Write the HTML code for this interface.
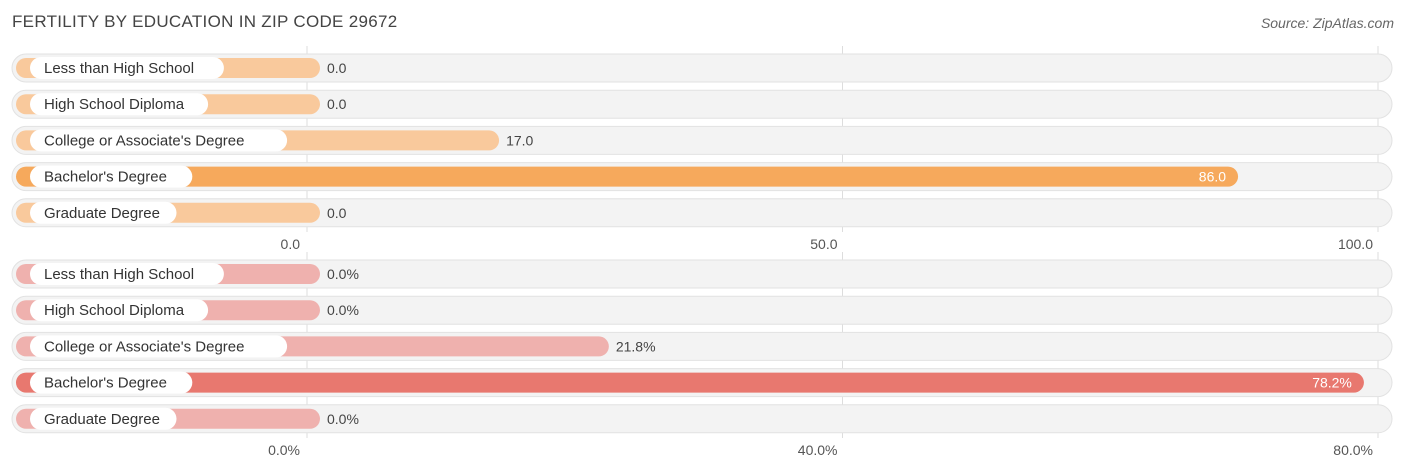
<!DOCTYPE html>
<html><head><meta charset="utf-8"><style>
body{margin:0;width:1406px;height:475px;background:#fff;font-family:"Liberation Sans",sans-serif;overflow:hidden;position:relative}
#title{position:absolute;left:12px;top:12px;font-size:17px;color:#444;letter-spacing:0.3px}
#source{position:absolute;right:12px;top:15px;font-size:14px;color:#666;font-style:italic}
</style></head><body>
<div id="title">FERTILITY BY EDUCATION IN ZIP CODE 29672</div>
<div id="source">Source: ZipAtlas.com</div>
<svg id="chart" width="1406" height="475" style="position:absolute;left:0;top:0"></svg>
<script>
const categories=["Less than High School","High School Diploma","College or Associate's Degree","Bachelor's Degree","Graduate Degree"];
const valuesTop=[0,0,17,86,0];
const valuesBottom=[0,0,21.8,78.2,0];
const ticksTop=[0,50,100];
const ticksBottom=[0,40,80];
const labelsTopTicks=["0.0","50.0","100.0"];
const labelsBottomTicks=["0.0%","40.0%","80.0%"];
const svg=document.getElementById('chart');
const NS='http://www.w3.org/2000/svg';
function mk(t,a,p){const e=document.createElementNS(NS,t);for(const k in a)e.setAttribute(k,a[k]);(p||svg).appendChild(e);return e;}
function panel(vals,ticks,tickLabels,maxV,y0,axisY,light,strong,suffix,name){
  const x=v=>307+v*(1378-307)/maxV;
  const g=mk('g',{});
  
  
  ticks.forEach((t,i)=>{
    const l=mk('line',{x1:x(t),x2:x(t),y1:y0-22,y2:axisY-12,stroke:'#ddd','stroke-width':1},g);
    
    
    const tx=mk('text',{x:x(t),y:axisY+5,'text-anchor':i==0?'end':'end','font-size':14,fill:'#555'},g);
    
    
    tx.textContent=tickLabels[i];
    if(i==0)tx.setAttribute('x',x(t)-7);
    else tx.setAttribute('x',x(t)-5);
  });
  const mx=Math.max(...vals);
  vals.forEach((v,i)=>{
    const cy=y0+i*36.2;
    const row=mk('g',{},g);
    
    
    const bg=mk('rect',{x:12,y:cy-14,width:1380,height:28,rx:14,fill:'#f3f3f3',stroke:'#e2e2e2'},row);
    
    
    const end=Math.max(x(v)+10,320);
    const isMax=v===mx;
    const b=mk('rect',{x:16,y:cy-10,width:end-16,height:20,rx:10,fill:isMax?strong:light},row);
    
    
    const tw=categories[i].length*7.9+28;
    const pill=mk('rect',{x:30,y:cy-11,width:tw,height:22,rx:11,fill:'#fff'},row);
    
    
    const lt=mk('text',{x:44,y:cy+5,'font-size':15,fill:'#333'},row);
    
    
    lt.textContent=categories[i];
    const vt=mk('text',{x:isMax?end-12:end+7,y:cy+5,'font-size':14,fill:isMax?'#fff':'#444','text-anchor':isMax?'end':'start'},row);
    
    
    vt.textContent=v.toFixed(1)+suffix;
  });
}
panel(valuesTop,ticksTop,labelsTopTicks,100,68,244,'#f9c99c','#f6a95c','','panel-count');
panel(valuesBottom,ticksBottom,labelsBottomTicks,80,274,450,'#efb1ae','#e8786f','%','panel-percent');
</script>
</body></html>
